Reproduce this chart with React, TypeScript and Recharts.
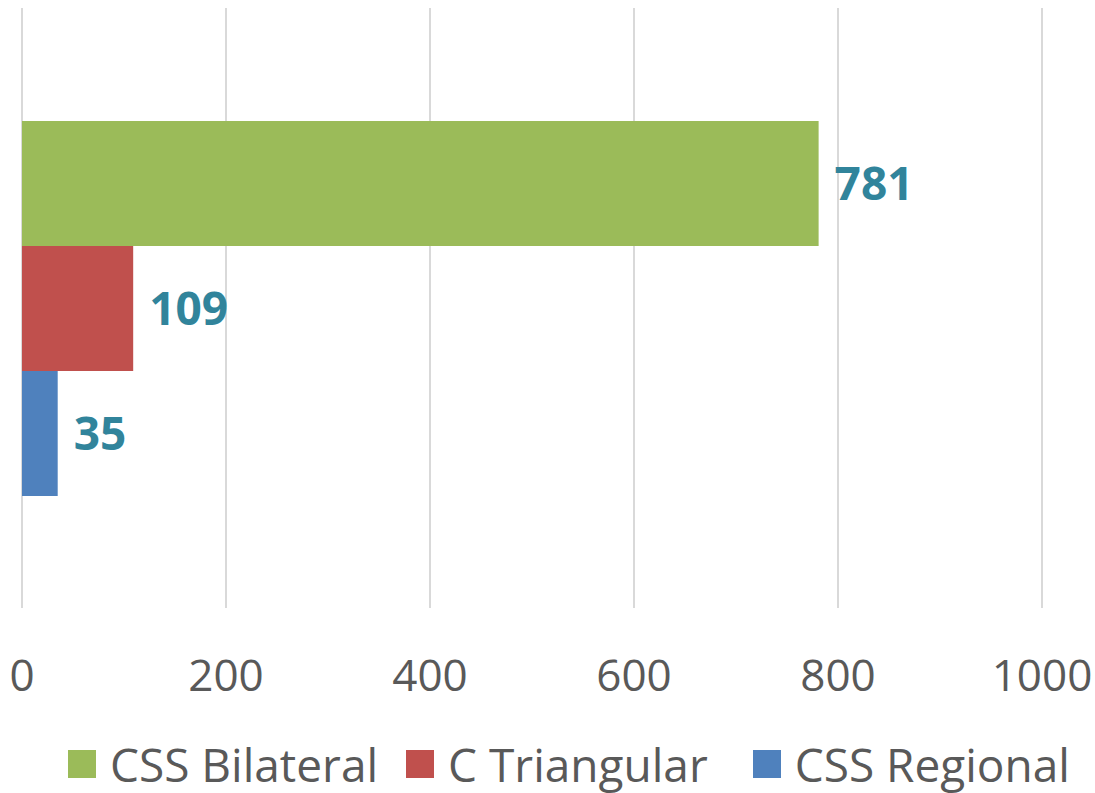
import { Bar, BarChart, CartesianGrid, LabelList, Legend, XAxis, YAxis } from "recharts";

document.body.style.margin = "0";

const categories = [""];
const seriesNames = ["CSS Bilateral", "C Triangular", "CSS Regional"];
const seriesKeys = ["bilateral", "triangular", "regional"];
const seriesColors = ["#9BBB59", "#C0504D", "#4F81BD"];
const bilateralValues = [781];
const triangularValues = [109];
const regionalValues = [35];
const xTicks = [0, 200, 400, 600, 800, 1000];

const data = categories.map((name, i) => ({
  name,
  bilateral: bilateralValues[i],
  triangular: triangularValues[i],
  regional: regionalValues[i],
}));

const FONT = "'Open Sans', sans-serif";
const legendGaps = [28, 45, 0];

function LegendContent() {
  return (
    <div
      style={{
        display: "flex",
        justifyContent: "flex-start",
        alignItems: "center",
        height: 85,
        paddingTop: 26,
        paddingLeft: 46,
        boxSizing: "border-box",
        fontFamily: FONT,
        fontSize: 46,
        lineHeight: 1,
        color: "#595959",
      }}
    >
      {seriesNames.map((n, i) => (
        <div key={n} style={{ display: "flex", alignItems: "center", marginRight: legendGaps[i] }}>
          <span style={{ width: 28, height: 28, background: seriesColors[i], marginRight: 14, flexShrink: 0 }} />
          <span style={{ whiteSpace: "nowrap" }}>{n}</span>
        </div>
      ))}
    </div>
  );
}

export default function App() {
  return (
    <BarChart
      width={1095}
      height={793}
      data={data}
      layout="vertical"
      margin={{ top: 8, right: 53, left: 22, bottom: 0 }}
      barCategoryGap={113}
      barGap={0}
    >
      <CartesianGrid horizontal={false} stroke="#d9d9d9" strokeWidth={2} />
      <XAxis
        type="number"
        domain={[0, 1000]}
        ticks={xTicks}
        axisLine={false}
        tickLine={false}
        tickSize={0}
        tickMargin={52}
        height={100}
        interval={0}
        tick={{ fill: "#595959", fontSize: 44, fontFamily: FONT }}
      />
      <YAxis type="category" dataKey="name" hide />
      <Legend verticalAlign="bottom" height={85} content={() => <LegendContent />} />
      {seriesKeys.map((k, i) => (
        <Bar key={k} dataKey={k} name={seriesNames[i]} fill={seriesColors[i]} isAnimationActive={false}>
          <LabelList
            dataKey={k}
            position="right"
            offset={16}
            fill="#31849B"
            fontSize={46}
            fontWeight="bold"
            fontFamily={FONT}
          />
        </Bar>
      ))}
    </BarChart>
  );
}
